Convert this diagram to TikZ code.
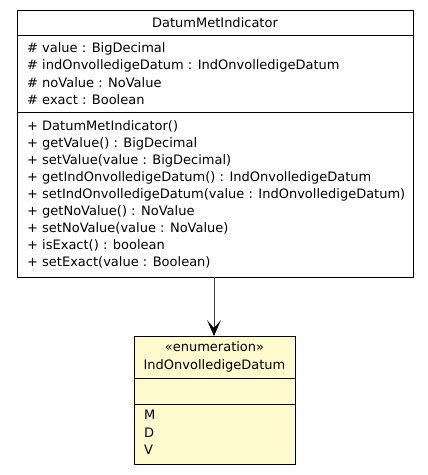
\documentclass[tikz,border=0pt]{standalone}
\usepackage{fontspec}
\setmainfont{DejaVu Sans}
\usetikzlibrary{arrows.meta}
\definecolor{enumfill}{RGB}{255,250,205}
\begin{document}
\begin{tikzpicture}[x=1pt,y=-1pt,
  umlbox/.style={draw=black, line width=0.9pt, anchor=north west, inner sep=0pt},
  member/.style={anchor=base west, inner sep=0pt, font=\fontsize{13}{15}\selectfont},
  title/.style={anchor=base, inner sep=0pt, font=\fontsize{13}{15}\selectfont},
  sep/.style={line width=0.9pt}]
\useasboundingbox (0,0) rectangle (428,475);

% class DatumMetIndicator
\node[umlbox, minimum width=396pt, minimum height=267pt] (cls) at (17,10) {};
\node[title] (clsname) at (215,27) {DatumMetIndicator};
\draw[sep] (17,35) -- (413,35);
\draw[sep] (17,112) -- (413,112);
\node[member] (a1) at (27,52.3) {\# value : BigDecimal};
\node[member] (a2) at (27,69.8) {\# indOnvolledigeDatum : IndOnvolledigeDatum};
\node[member] (a3) at (27,87.3) {\# noValue : NoValue};
\node[member] (a4) at (27,104.8) {\# exact : Boolean};
\node[member] (m1) at (27,130.7) {+ DatumMetIndicator()};
\node[member] (m2) at (27,147.7) {+ getValue() : BigDecimal};
\node[member] (m3) at (27,164.7) {+ setValue(value : BigDecimal)};
\node[member] (m4) at (27,181.7) {+ getIndOnvolledigeDatum() : IndOnvolledigeDatum};
\node[member] (m5) at (27,198.7) {+ setIndOnvolledigeDatum(value : IndOnvolledigeDatum)};
\node[member] (m6) at (27,215.7) {+ getNoValue() : NoValue};
\node[member] (m7) at (27,232.7) {+ setNoValue(value : NoValue)};
\node[member] (m8) at (27,249.7) {+ isExact() : boolean};
\node[member] (m9) at (27,266.7) {+ setExact(value : Boolean)};

% enumeration IndOnvolledigeDatum
\node[umlbox, fill=enumfill, minimum width=161pt, minimum height=128pt] (enum) at (134,336) {};
\node[title] (stereo) at (214.5,351.7) {«enumeration»};
\node[title] (enumname) at (214.5,369.2) {IndOnvolledigeDatum};
\draw[sep] (134,378) -- (295,378);
\draw[sep] (134,404) -- (295,404);
\node[member] (e1) at (144,419.5) {M};
\node[member] (e2) at (144,437) {D};
\node[member] (e3) at (144,454.5) {V};

% association
\draw[draw=black!75, line width=1pt, -{Stealth[length=16pt,width=14pt,inset=8pt,color=black,fill=black]}] (214,277) -- (enum.north -| 214,0);
\end{tikzpicture}
\end{document}
